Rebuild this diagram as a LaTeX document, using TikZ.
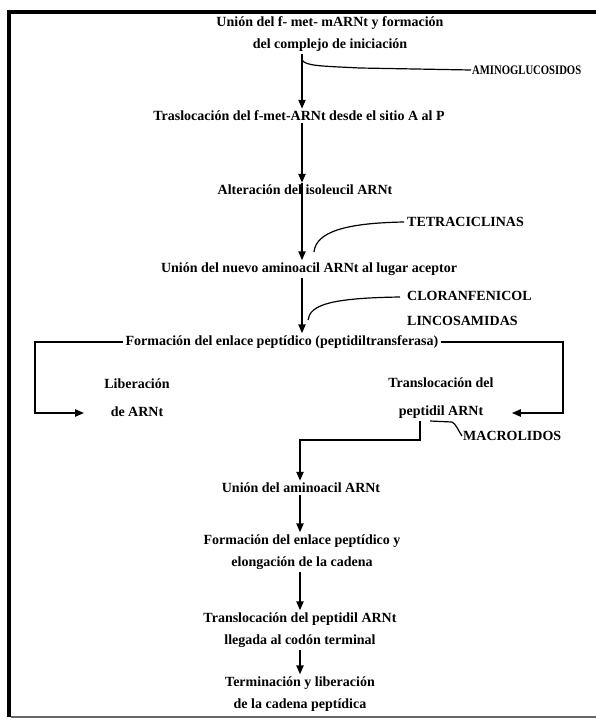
\documentclass[tikz,border=0pt]{standalone}
\usepackage{graphicx}
\usepackage{fontspec}
\setmainfont{Liberation Serif}
\usetikzlibrary{arrows.meta,positioning}

\tikzset{
  paso/.style={font=\bfseries\fontsize{14}{22}\selectfont, align=center, inner sep=2pt},
  droga/.style={font=\bfseries\fontsize{14}{25}\selectfont, anchor=west, align=left, inner sep=3pt},
  flecha/.style={line width=2pt, -{Triangle[length=9pt,width=7pt]}},
  linea/.style={line width=1.2pt},
  marco/.style={line width=4pt}
}

\begin{document}
\begin{tikzpicture}[x=1pt,y=-1pt]
\useasboundingbox (0,0) rectangle (596,721);
% marco
\draw[marco] (9,717) -- (9,12) -- (596,12);
\draw[line width=1.5pt, black!60] (11,717) -- (596,717);

% pasos de la sintesis
\node[paso] (union) at (330,34) {Unión del f- met- mARNt y formación\\del complejo de iniciación};
\node[paso] (trasl) at (299,116) {Traslocación del f-met-ARNt desde el sitio A al P};
\node[paso] (alter) at (305,190) {Alteración del isoleucil ARNt};
\node[paso] (nuevo) at (309,269) {Unión del nuevo aminoacil ARNt al lugar aceptor};
\node[paso] (form) at (282,342) {Formación del enlace peptídico (peptidiltransferasa)};
\node[paso, font=\bfseries\fontsize{14}{28}\selectfont] (liber) at (137,398) {Liberación\\de ARNt};
\node[paso, font=\bfseries\fontsize{14}{28}\selectfont] (transl) at (441,398) {Translocación del\\peptidil ARNt};
\node[paso] (amino) at (301,488) {Unión del aminoacil ARNt};
\node[paso] (elong) at (302,552) {Formación del enlace peptídico y\\elongación de la cadena};
\node[paso] (llega) at (300,630) {Translocación del peptidil ARNt\\llegada al codón terminal};
\node[paso] (term) at (300,694) {Terminación y liberación\\de la cadena peptídica};

% antibioticos
\node[droga, font=\bfseries\fontsize{13}{25}\selectfont, inner sep=1pt] (aminog) at (471,70) {\scalebox{0.82}[1]{AMINOGLUCOSIDOS}};
\node[droga] (tetra) at (404,222) {TETRACICLINAS};
\node[droga] (clora) at (404,308) {CLORANFENICOL\\LINCOSAMIDAS};
\node[droga, inner sep=1pt] (macro) at (462,436) {MACROLIDOS};

% flechas
\coordinate (eje) at (302,0);
\coordinate (eje2) at (300,0);
\draw[flecha] (union.south -| eje) -- (trasl.north -| eje);
\draw[flecha] (trasl.south -| eje) -- (alter.north -| eje);
\draw[flecha] (alter.north -| eje) -- (nuevo.north -| eje);
\draw[flecha] (nuevo.south -| eje) -- (form.north -| eje);

\coordinate (fi) at (35,413);
\coordinate (fd) at (563,413);
\draw[flecha] (form.west) -- (fi |- form.west) -- (fi) -- ([xshift=-18pt]liber.west |- fi);
\draw[flecha] (form.east) -- (fd |- form.east) -- (fd) -- ([xshift=16pt]transl.east |- fd);

\coordinate (pep) at (420,440);
\draw[flecha] (transl.south -| pep) -- (pep) -- (pep -| eje2) -- (amino.north -| eje2);
\draw[flecha] (amino.south -| eje2) -- (elong.north -| eje2);
\draw[flecha] (elong.south -| eje2) -- (llega.north -| eje2);
\draw[flecha] (llega.south -| eje2) -- (term.north -| eje2);

% inhibicion
\coordinate (cl) at (400,297);
\draw[linea] (302,60) .. controls (306,66) and (320,66) .. (360,68) -- (aminog.west);
\draw[linea] (314,252) .. controls (316,232) and (345,223) .. (tetra.west);
\draw[linea] (308,320) .. controls (310,305) and (330,298) .. (cl);
\draw[linea] (430,421) -- (452,422) .. controls (456,424) and (458,430) .. (macro.west);
\end{tikzpicture}
\end{document}
